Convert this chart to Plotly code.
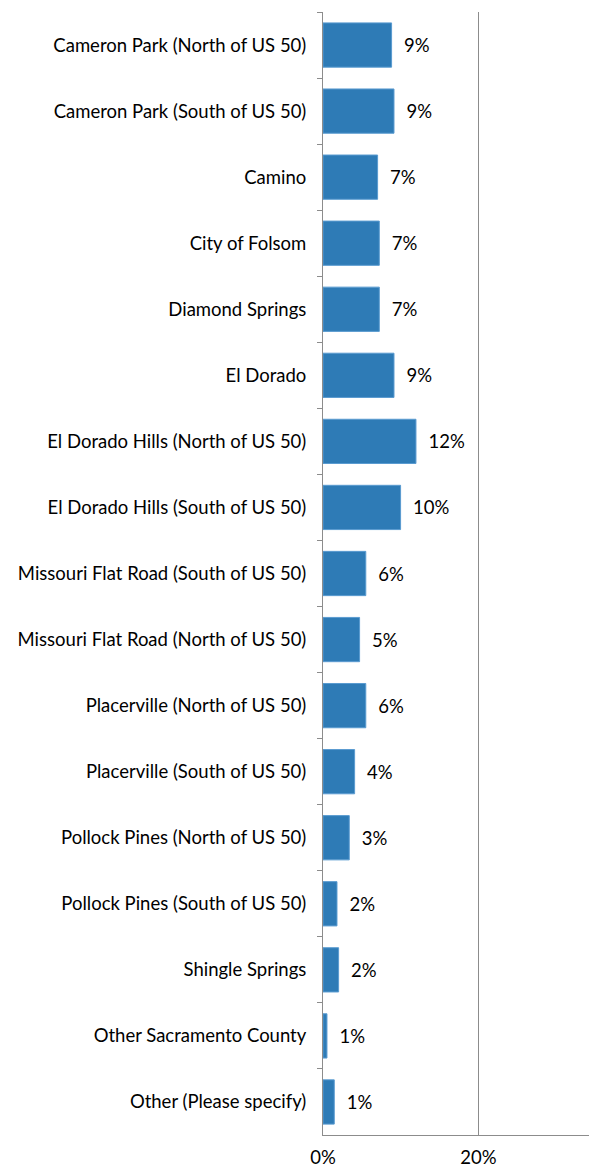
import plotly.graph_objects as go

categories = [
    "Cameron Park (North of US 50)",
    "Cameron Park (South of US 50)",
    "Camino",
    "City of Folsom",
    "Diamond Springs",
    "El Dorado",
    "El Dorado Hills (North of US 50)",
    "El Dorado Hills (South of US 50)",
    "Missouri Flat Road (South of US 50)",
    "Missouri Flat Road (North of US 50)",
    "Placerville (North of US 50)",
    "Placerville (South of US 50)",
    "Pollock Pines (North of US 50)",
    "Pollock Pines (South of US 50)",
    "Shingle Springs",
    "Other Sacramento County",
    "Other (Please specify)",
]
values = [0.0883, 0.0914, 0.0703, 0.0725, 0.0725, 0.0914, 0.1197, 0.0999,
          0.0551, 0.0471, 0.0551, 0.0407, 0.0338, 0.0180, 0.0201, 0.0051, 0.0145]

FONT = "Lato"
FS = 18.5

fig = go.Figure(
    go.Bar(
        x=values,
        y=categories,
        orientation="h",
        marker=dict(color="#2E7BB6", line=dict(color="#5A9BD0", width=1)),
        texttemplate="\u00a0\u00a0%{x:.0%}",
        textposition="outside",
        textfont=dict(family=FONT, size=FS, color="#000000"),
        cliponaxis=False,
        width=0.67,
    )
)

fig.update_layout(
    width=589,
    height=1169,
    margin=dict(l=323, r=0, t=12, b=34),
    plot_bgcolor="white",
    paper_bgcolor="white",
    showlegend=False,
    font=dict(family=FONT, size=FS, color="#000000"),
)

fig.update_xaxes(
    range=[0, 0.3425],
    tickvals=[0, 0.2],
    tickformat=".0%",
    showgrid=True,
    gridcolor="#8C8C8C",
    gridwidth=1,
    zeroline=False,
    showline=True,
    linecolor="#8C8C8C",
    linewidth=1,
    ticks="outside",
    ticklen=6,
    tickcolor="rgba(0,0,0,0)",
    automargin=False,
    tickfont=dict(family=FONT, size=FS, color="#000000"),
)

fig.update_yaxes(
    autorange="reversed",
    tickson="boundaries",
    ticks="outside",
    ticklen=5,
    tickcolor="#8C8C8C",
    showline=True,
    linecolor="#8C8C8C",
    linewidth=1,
    showgrid=False,
    automargin=False,
    ticklabelstandoff=12,
    tickfont=dict(family=FONT, size=FS, color="#000000"),
)

fig.write_html(
    "out.html",
    config={"displayModeBar": False},
    post_script="document.body.style.margin='0';document.body.style.overflow='hidden';",
)
